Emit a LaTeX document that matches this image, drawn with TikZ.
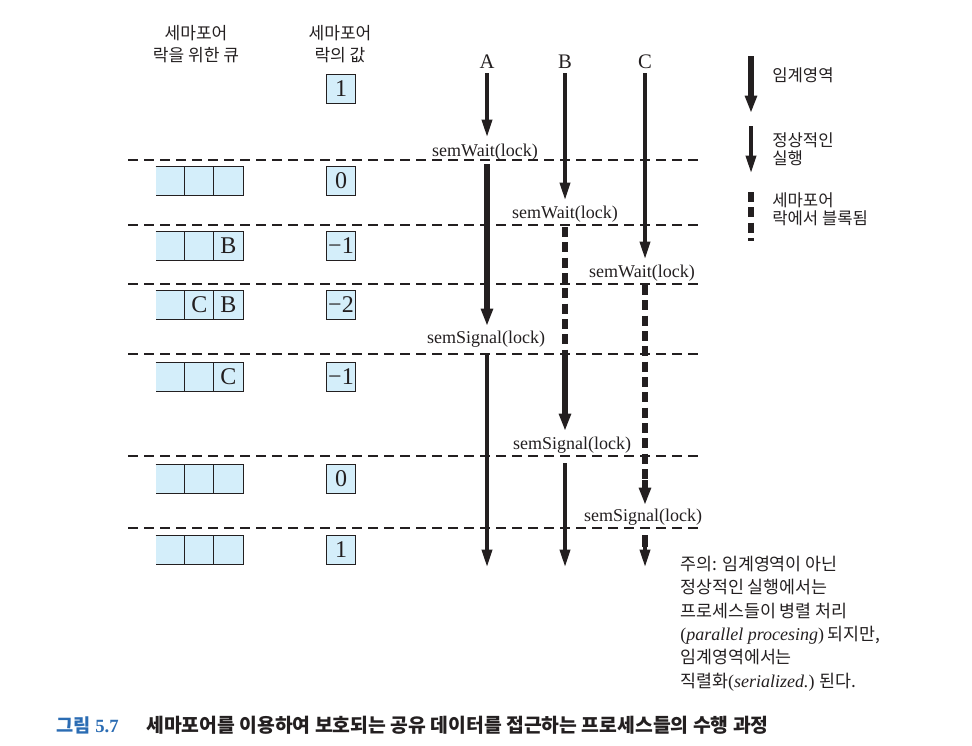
\documentclass[tikz,border=0pt]{standalone}
\usepackage{fontspec}
\setmainfont{Liberation Serif}
\newfontfamily\kr{Noto Sans CJK KR}
\usetikzlibrary{arrows.meta}
\definecolor{qfill}{HTML}{D4EEFA}
\definecolor{capblue}{HTML}{2B6CB3}
\definecolor{ink}{HTML}{231F20}
\begin{document}
\begin{tikzpicture}[x=0.75pt,y=-0.75pt,
  every node/.style={inner sep=0pt, text=ink},
  hdr/.style={font=\kr\fontsize{12.8}{16.5}\selectfont, align=center},
  kt/.style={font=\kr\fontsize{12.5}{13.5}\selectfont, align=left, anchor=west},
  valbox/.style={draw=ink, line width=0.9pt, fill=qfill, minimum width=21.75pt, minimum height=21.75pt, font=\fontsize{18}{18}\selectfont},
  qcell/.style={fill=qfill, minimum width=21.75pt, minimum height=21.75pt, font=\fontsize{18}{18}\selectfont},
  qline/.style={draw=ink, line width=0.9pt},
  sepline/.style={draw=ink, line width=0.8pt, dash pattern=on 7.5pt off 4.5pt},
  plab/.style={font=\fontsize{15.5}{16}\selectfont},
  call/.style={font=\fontsize{13.5}{16}\selectfont},
  thinarr/.style={draw=ink, line width=2.5pt, -{Triangle[length=13pt,width=7.5pt]}},
  thickarr/.style={draw=ink, line width=4.5pt, -{Triangle[length=13pt,width=8.5pt]}},
  thickline/.style={draw=ink, line width=4.5pt},
  blockline/.style={draw=ink, line width=4.5pt, dash pattern=on 7.5pt off 4pt}]
\useasboundingbox (0,0) rectangle (972,746);

% headers
\node[hdr] (hq) at (196,44) {세마포어\\락을 위한 큐};
\node[hdr] (hv) at (340,44) {세마포어\\락의 값};

% separator lines
\foreach \n/\y in {1/160,2/225,3/284,4/354,5/456,6/528}{
  \coordinate (d\n l) at (128,\y);
  \coordinate (d\n r) at (703,\y);
  \draw[sepline] (d\n l) -- (d\n r);
}

% semaphore values
\foreach \n/\y/\v in {1/89/1,2/181/0,3/246/−1,4/305/−2,5/377/−1,6/479/0,7/550/1}
  \node[valbox] (v\n) at (341,\y) {\v};

% queues
\foreach \n/\y/\b/\c in {2/181//,3/246//B,4/305/C/B,5/377//C,6/479//,7/550//}{
  \node[qcell] (q\n-a) at (170.5,\y) {};
  \node[qcell] (q\n-b) at (199.5,\y) {\b};
  \node[qcell] (q\n-c) at (228.5,\y) {\c};
  \draw[qline] (q\n-a.north west) -- (q\n-c.north east) -- (q\n-c.south east) -- (q\n-a.south west);
  \draw[qline] (q\n-b.north west) -- (q\n-b.south west) (q\n-c.north west) -- (q\n-c.south west);
}

% process labels
\node[plab] (A) at (487,62) {A};
\node[plab] (B) at (565,62) {B};
\node[plab] (C) at (645,62) {C};

% call labels
\node[call] (swA) at (485,152) {semWait(lock)};
\node[call] (swB) at (565,214) {semWait(lock)};
\node[call] (swC) at (642,273) {semWait(lock)};
\node[call] (ssA) at (486,339) {semSignal(lock)};
\node[call] (ssB) at (572,445) {semSignal(lock)};
\node[call] (ssC) at (643,517) {semSignal(lock)};

% process A
\coordinate (a0) at (487,73);
\coordinate (a1) at (487,137);
\coordinate (a2) at (487,164);
\coordinate (a3) at (487,326);
\coordinate (a4) at (487,355);
\coordinate (a5) at (487,567);
\draw[thinarr] (a0) -- (a1);
\draw[thickarr] (a2) -- (a3);
\draw[thinarr] (a4) -- (a5);

% process B
\coordinate (b0) at (565,73);
\coordinate (b1) at (565,200);
\coordinate (b2) at (565,227);
\coordinate (b3) at (565,350);
\coordinate (b4) at (565,431);
\coordinate (b5) at (565,463);
\coordinate (b6) at (565,567);
\draw[thinarr] (b0) -- (b1);
\draw[blockline] (b2) -- (b3);
\draw[thickarr] (b3) -- (b4);
\draw[thinarr] (b5) -- (b6);

% process C
\coordinate (c0) at (645,73);
\coordinate (c1) at (645,259);
\coordinate (c2) at (645,285);
\coordinate (c3) at (645,480);
\coordinate (c4) at (645,505);
\coordinate (c5) at (645,535);
\coordinate (c6) at (645,547);
\coordinate (c7) at (645,567);
\draw[thinarr] (c0) -- (c1);
\draw[blockline] (c2) -- (c3);
\draw[thickarr] (c3) -- (c4);
\draw[thickline] (c5) -- (c6);
\draw[thinarr] (c6) -- (c7);

% legend
\coordinate (l0) at (751,56);
\coordinate (l1) at (751,113);
\coordinate (l2) at (751,126);
\coordinate (l3) at (751,173);
\coordinate (l4) at (751,192);
\coordinate (l5) at (751,241);
\draw[thickarr] (l0) -- (l1);
\draw[thinarr] (l2) -- (l3);
\draw[blockline] (l4) -- (l5);
\node[kt] (lt1) at (772,75) {임계영역};
\node[kt] (lt2) at (772,149) {정상적인\\실행};
\node[kt] (lt3) at (772,209) {세마포어\\락에서 블록됨};

% note
\node[kt, font=\kr\fontsize{13}{17.5}\selectfont] (note) at (680,623.5)
  {주의: 임계영역이 아닌\\정상적인 실행에서는\\프로세스들이 병렬 처리\\{\rmfamily\fontsize{13.5}{17.5}\selectfont(\textit{parallel procesing})} 되지만,\\임계영역에서는\\직렬화{\rmfamily\fontsize{13.5}{17.5}\selectfont(\textit{serialized.})} 된다.};

% caption
\node[anchor=west, text=capblue, font=\bfseries\fontsize{14}{16}\selectfont] (fig) at (56,725) {{\kr 그림} 5.7};
\node[anchor=west, font=\kr\bfseries\fontsize{14.5}{16}\selectfont] (cap) at (146,725) {세마포어를 이용하여 보호되는 공유 데이터를 접근하는 프로세스들의 수행 과정};
\end{tikzpicture}
\end{document}
